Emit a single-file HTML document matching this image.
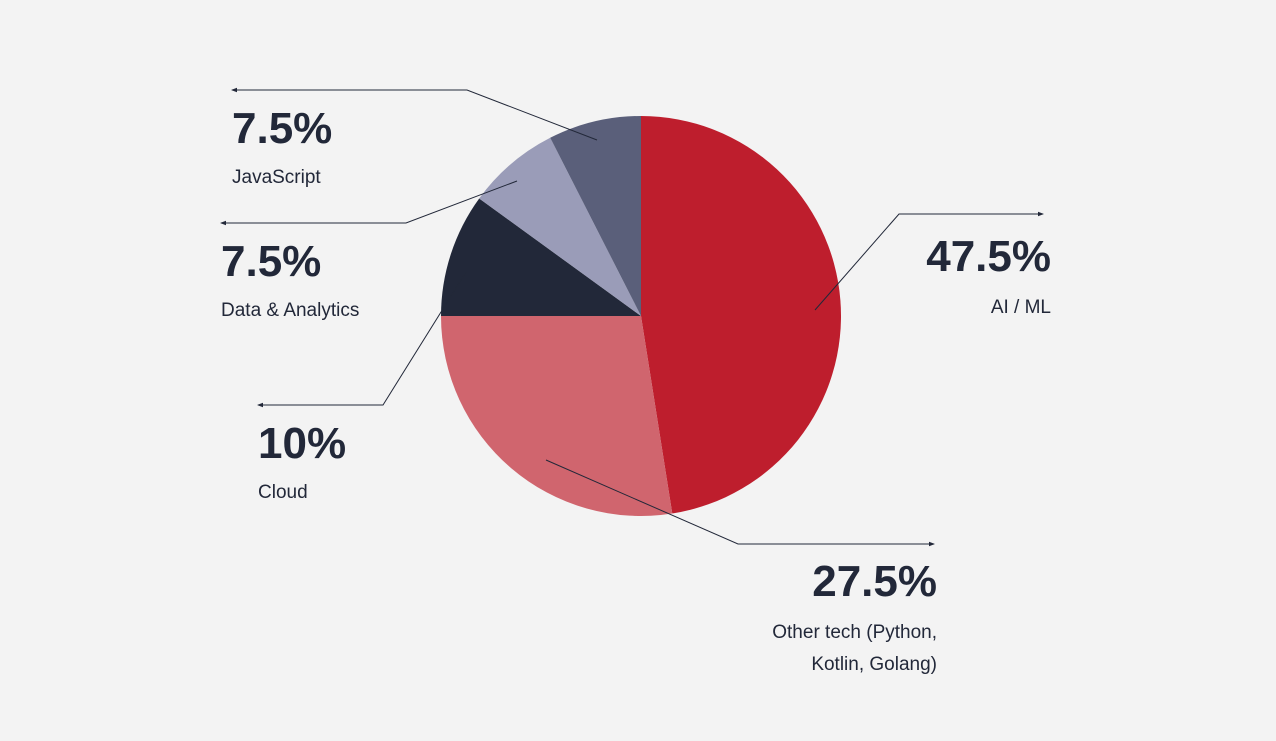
<!DOCTYPE html>
<html><head><meta charset="utf-8"><style>
html,body{margin:0;padding:0;background:#f3f3f3;}
svg{display:block;}
.num{font-family:"Liberation Sans",sans-serif;font-weight:bold;font-size:44px;fill:#222839;}
.lab{font-family:"Liberation Sans",sans-serif;font-size:19px;fill:#222839;}
</style></head><body>
<svg id="chart" width="1276" height="741" viewBox="0 0 1276 741" xmlns="http://www.w3.org/2000/svg">
<rect width="1276" height="741" fill="#f3f3f3"/>
<defs><marker id="arr" markerWidth="6" markerHeight="6" refX="5" refY="3" orient="auto"><path d="M0,0.8 L6,3 L0,5.2 z" fill="#222839"/></marker></defs>
<g id="slices"></g>
<g id="leaders"></g>
<g id="labels"></g>
</svg>
<script>
const categories = ["AI / ML", "Other tech (Python,|Kotlin, Golang)", "Cloud", "Data & Analytics", "JavaScript"];
const values = [47.5, 27.5, 10, 7.5, 7.5];
const valueLabels = ["47.5%", "27.5%", "10%", "7.5%", "7.5%"];
const colors = ["#be1e2d", "#d0656e", "#222839", "#9a9cb8", "#5a5f7a"];
const names = ["ai-ml", "other-tech", "cloud", "data-analytics", "javascript"];
// annotation layout (not data)
const layout = [
 {pts:[[815,310],[899,214],[1043,214]], x:1051, anchor:"end", ny:271, ly:[313]},
 {pts:[[546,460],[738,544],[934,544]], x:937, anchor:"end", ny:596, ly:[638,670]},
 {pts:[[466,272],[383,405],[258,405]], x:258, anchor:"start", ny:458, ly:[498]},
 {pts:[[517,181],[406,223],[221,223]], x:221, anchor:"start", ny:276, ly:[316]},
 {pts:[[597,140],[467,90],[232,90]], x:232, anchor:"start", ny:143, ly:[183]}
];
const NS="http://www.w3.org/2000/svg";
const cx=641, cy=316, r=200;
const total=values.reduce((a,b)=>a+b,0);
function angle(v){return v/total*2*Math.PI;}
function pt(a){return [cx+r*Math.sin(a), cy-r*Math.cos(a)];}
let a0=0;
const gS=document.getElementById('slices'), gL=document.getElementById('leaders'), gT=document.getElementById('labels');
values.forEach((v,i)=>{
  const a1=a0+angle(v);
  const p0=pt(a0), p1=pt(a1);
  const large=(a1-a0)>Math.PI?1:0;
  const p=document.createElementNS(NS,'path');
  p.setAttribute('d',`M${cx},${cy} L${p0[0]},${p0[1]} A${r},${r} 0 ${large} 1 ${p1[0]},${p1[1]} Z`);
  p.setAttribute('fill',colors[i]);
  
  
  gS.appendChild(p);
  a0=a1;
  const L=layout[i];
  const pl=document.createElementNS(NS,'polyline');
  pl.setAttribute('points',L.pts.map(q=>q.join(',')).join(' '));
  pl.setAttribute('fill','none');pl.setAttribute('stroke','#222839');pl.setAttribute('stroke-width','1');
  pl.setAttribute('marker-end','url(#arr)');
  
  
  gL.appendChild(pl);
  const t=document.createElementNS(NS,'text');
  t.setAttribute('x',L.x);t.setAttribute('y',L.ny);t.setAttribute('text-anchor',L.anchor);t.setAttribute('class','num');
  t.textContent=valueLabels[i];
  
  
  gT.appendChild(t);
  categories[i].split('|').forEach((line,j)=>{
    const c=document.createElementNS(NS,'text');
    c.setAttribute('x',L.x);c.setAttribute('y',L.ly[j]);c.setAttribute('text-anchor',L.anchor);c.setAttribute('class','lab');
    c.textContent=line;
    
    
    gT.appendChild(c);
  });
});
</script>
</body></html>
